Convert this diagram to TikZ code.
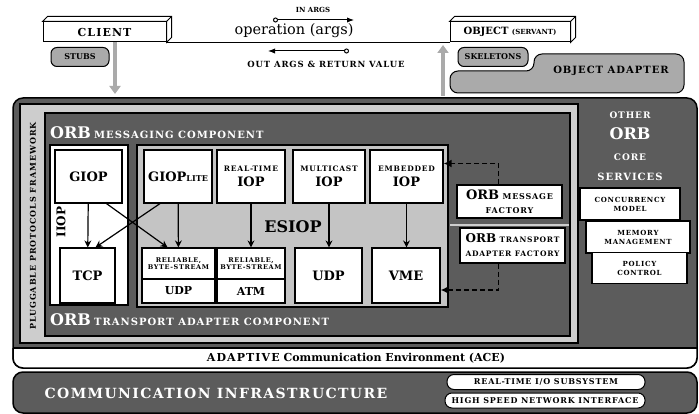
\documentclass[tikz,border=0pt]{standalone}
\usepackage{fontspec}
\setmainfont{DejaVu Serif}
\newfontfamily\capsfont[LetterSpace=10]{DejaVu Serif}
\newfontfamily\spreadfont[LetterSpace=12]{DejaVu Serif}
\usetikzlibrary{arrows.meta}

\definecolor{darkgrey}{RGB}{92,92,92}
\definecolor{midgrey}{RGB}{170,170,170}
\definecolor{lightgrey}{RGB}{205,205,205}
\definecolor{esiopgrey}{RGB}{196,196,196}

\newcommand{\tsize}[1]{\fontsize{#1}{#1}\selectfont}
% top and right faces of a slab node
\newcommand{\slabtop}[1]{%
  \draw[line width=1pt, fill=white] (#1.north west) -- ++(5,-5)
    -- ([xshift=5pt,yshift=5pt]#1.north east) -- ([xshift=5pt,yshift=5pt]#1.south east)
    -- (#1.south east) -- (#1.north east) -- cycle;
  \draw[line width=1pt] (#1.north east) -- ++(5,-5);}

\begin{document}
\begin{tikzpicture}[x=1pt, y=-1pt,
    slab/.style={draw, line width=1pt, fill=white, minimum height=20pt, inner sep=0pt, font=\bfseries},
    tag/.style={draw, line width=1pt, fill=midgrey, rounded corners=6pt, inner sep=0pt, font=\bfseries\tsize{8}},
    box/.style={draw, line width=1.2pt, fill=white, inner sep=0pt, align=center, font=\bfseries},
    pill/.style={draw, line width=1pt, fill=white, rounded corners=7pt, inner sep=0pt, minimum height=15pt, font=\bfseries\capsfont\tsize{8}},
    whitetext/.style={text=white, inner sep=0pt},
    flow/.style={line width=1.2pt, -{Stealth[length=7pt,width=7pt]}},
    dashflow/.style={line width=1.8pt, dash pattern=on 5pt off 3pt, -{Latex[length=8pt,width=8pt]}},
    bolt/.style={line width=4pt, draw=midgrey, -{Triangle[length=8pt,width=11pt]}}]
\useasboundingbox (0,0) rectangle (699,414);

% client and servant
\node[slab, minimum width=123pt, font=\bfseries\capsfont\tsize{11}] (client) at (104.5,32) {CLIENT};
\slabtop{client}
\node[slab, minimum width=120pt] (servant) at (510,32) {{\tsize{10}OBJECT} {\tsize{7}(SERVANT)}};
\slabtop{servant}
\draw[line width=1pt] (client.south east) -- (servant.south west);

% request and reply
\node[font=\tsize{14.5}] (operation) at (294,31) {operation (args)};
\node[font=\bfseries\tsize{7}] (inargs) at (313,10) {IN ARGS};
\coordinate (inA) at (273,20);
\coordinate (inB) at (354,20);
\draw[line width=1pt, {Circle[open,length=5pt]}-{Latex[length=7pt]}] (inA) -- (inB);
\coordinate (outA) at (268,51);
\coordinate (outB) at (349,51);
\draw[line width=1pt, {Latex[length=7pt]}-{Circle[open,length=5pt]}] (outA) -- (outB);
\node[font=\bfseries\capsfont\tsize{8.5}] (outargs) at (326,64) {OUT ARGS \& RETURN VALUE};

% stubs, skeletons and object adapter
\node[tag, minimum width=58pt, minimum height=19pt] (stubs) at (80,57) {STUBS};
\draw[line width=1pt, fill=midgrey, rounded corners=8pt] (450,93) -- (450,71) -- (534,71) -- (534,54) -- (684,54) -- (684,93) -- cycle;
\node[font=\bfseries\capsfont\tsize{10}] (adapter) at (611,71) {OBJECT ADAPTER};
\node[tag, minimum width=70pt, minimum height=19pt] (skeletons) at (493,57) {SKELETONS};
\coordinate (stubdown) at (115,94);
\draw[bolt] (client.south -| stubdown) -- (stubdown);
\coordinate (skelfoot) at (443,96);
\coordinate (skelup) at (443,45);
\draw[bolt] (skelfoot) -- (skelup);

% ORB core, ACE and network
\draw[line width=1.5pt, fill=darkgrey, rounded corners=10pt] (13,98) rectangle (697,368);
\draw[line width=1.5pt, fill=white, rounded corners=10pt] (13,348) -- (13,368) -- (697,368) -- (697,348);
\draw[line width=1.5pt] (13,348) -- (697,348);
\node[font=\bfseries\tsize{11}] (ace) at (356,358) {{\capsfont ADAPTIVE} Communication Environment (ACE)};
\draw[line width=1.5pt, fill=darkgrey, rounded corners=10pt] (13,372) rectangle (697,413);
\node[whitetext, font=\bfseries\capsfont\tsize{14}] (comm) at (216,393) {COMMUNICATION INFRASTRUCTURE};
\node[pill, minimum width=198pt] (rtio) at (546,382) {REAL-TIME I/O SUBSYSTEM};
\node[pill, minimum width=200pt] (hsni) at (545,400.5) {HIGH SPEED NETWORK INTERFACE};

% pluggable protocols framework
\draw[line width=1.2pt, fill=lightgrey] (20,104) rectangle (578,343);
\draw[line width=1.2pt, fill=darkgrey] (45,113) rectangle (570,336);
\node[font=\bfseries\spreadfont\tsize{8}, rotate=90, inner sep=0pt] (pluggable) at (33,226) {PLUGGABLE PROTOCOLS FRAMEWORK};
\node[whitetext, anchor=west] (msgcomp) at (50,133) {{\bfseries\tsize{16}ORB} {\bfseries\capsfont\tsize{10}MESSAGING COMPONENT}};
\node[whitetext, anchor=west] (trcomp) at (50,320) {{\bfseries\tsize{16}ORB} {\bfseries\capsfont\tsize{10}TRANSPORT ADAPTER COMPONENT}};
\draw[lightgrey, line width=1.5pt] (450,225) -- (569,225);

% IIOP
\draw[line width=1.2pt, fill=white] (50,145) rectangle (128,305);
\node[font=\bfseries\tsize{12}, rotate=90, inner sep=0pt] (iiop) at (61,222) {IIOP};
\node[box, minimum width=67pt, minimum height=53pt, font=\bfseries\tsize{13}] (giop) at (88.5,176.5) {GIOP};
\node[box, minimum width=55pt, minimum height=55pt, font=\bfseries\tsize{13}] (tcp) at (87.5,275.5) {TCP};

% ESIOP
\draw[line width=1.2pt, fill=esiopgrey] (137,145) rectangle (448,307);
\node[font=\bfseries\tsize{16}] (esiop) at (293,227) {ESIOP};
\node[box, minimum width=68pt, minimum height=53pt] (gioplite) at (178,176.5) {{\tsize{13}GIOP}{\tsize{8}LITE}};
\node[box, minimum width=68pt, minimum height=53pt] (rtiop) at (251,176.5) {{\capsfont\tsize{7.5}REAL-TIME}\\[3pt]{\tsize{13}IOP}};
\node[box, minimum width=72pt, minimum height=53pt] (mciop) at (329,176.5) {{\capsfont\tsize{7.5}MULTICAST}\\[3pt]{\tsize{13}IOP}};
\node[box, minimum width=73pt, minimum height=53pt] (emiop) at (406.5,176.5) {{\capsfont\tsize{7.5}EMBEDDED}\\[3pt]{\tsize{13}IOP}};
\node[box, minimum width=73pt, minimum height=31pt, font=\bfseries\capsfont\tsize{6.5}] (relbs1) at (178.5,263.5) {RELIABLE,\\[1pt]BYTE-STREAM};
\node[box, minimum width=73pt, minimum height=24pt, font=\bfseries\tsize{11}] (udpa) at (178.5,291) {UDP};
\node[box, minimum width=68pt, minimum height=31pt, font=\bfseries\capsfont\tsize{6.5}] (relbs2) at (251,263.5) {RELIABLE,\\[1pt]BYTE-STREAM};
\node[box, minimum width=68pt, minimum height=24pt, font=\bfseries\tsize{11}] (atm) at (251,291) {ATM};
\node[box, minimum width=67pt, minimum height=55pt, font=\bfseries\tsize{13}] (udp) at (328.5,275.5) {UDP};
\node[box, minimum width=68pt, minimum height=55pt, font=\bfseries\tsize{13}] (vme) at (406,275.5) {VME};

% protocol mappings
\draw[flow] (giop) -- (tcp);
\draw[flow] ([xshift=18pt]giop.south) -- ([xshift=-11pt]relbs1.north);
\draw[flow] ([xshift=-18pt]gioplite.south) -- ([xshift=8pt]tcp.north);
\draw[flow] (gioplite) -- (relbs1);
\draw[flow] (rtiop) -- (relbs2);
\draw[flow] (mciop.south) -- (mciop.south |- udp.north);
\draw[flow] (emiop.south) -- (emiop.south |- vme.north);

% factories
\node[box, minimum width=105pt, minimum height=33pt] (msgfac) at (509.5,201.5) {{\tsize{13}ORB} {\capsfont\tsize{8}MESSAGE}\\[2pt]{\capsfont\tsize{8}FACTORY}};
\node[box, minimum width=105pt, minimum height=35pt] (trfac) at (512.5,245.5) {{\tsize{12}ORB} {\capsfont\tsize{7.5}TRANSPORT}\\[2pt]{\capsfont\tsize{7.5}ADAPTER FACTORY}};
\draw[dashflow] ([xshift=-11pt]msgfac.north) |- ([yshift=13pt]emiop.east);
\draw[dashflow] ([xshift=-14pt]trfac.south) |- ([yshift=-14.5pt]vme.east);

% other ORB core services
\node[whitetext, font=\bfseries\capsfont\tsize{9}] (other) at (630,115) {OTHER};
\node[whitetext, font=\bfseries\tsize{16}] (orbcore) at (630,134) {ORB};
\node[whitetext, font=\bfseries\capsfont\tsize{9}] (core) at (630,157) {CORE};
\node[whitetext, font=\bfseries\capsfont\tsize{10}] (services) at (630,177) {SERVICES};
\node[box, minimum width=100pt, minimum height=32pt, font=\bfseries\capsfont\tsize{7}] (conc) at (630,204) {CONCURRENCY\\[2pt]MODEL};
\node[box, minimum width=104pt, minimum height=32pt, font=\bfseries\capsfont\tsize{7}] (mem) at (638,237) {MEMORY\\[2pt]MANAGEMENT};
\node[box, minimum width=95pt, minimum height=31pt, font=\bfseries\capsfont\tsize{7}] (pol) at (639.5,268) {POLICY\\[2pt]CONTROL};
\end{tikzpicture}
\end{document}
